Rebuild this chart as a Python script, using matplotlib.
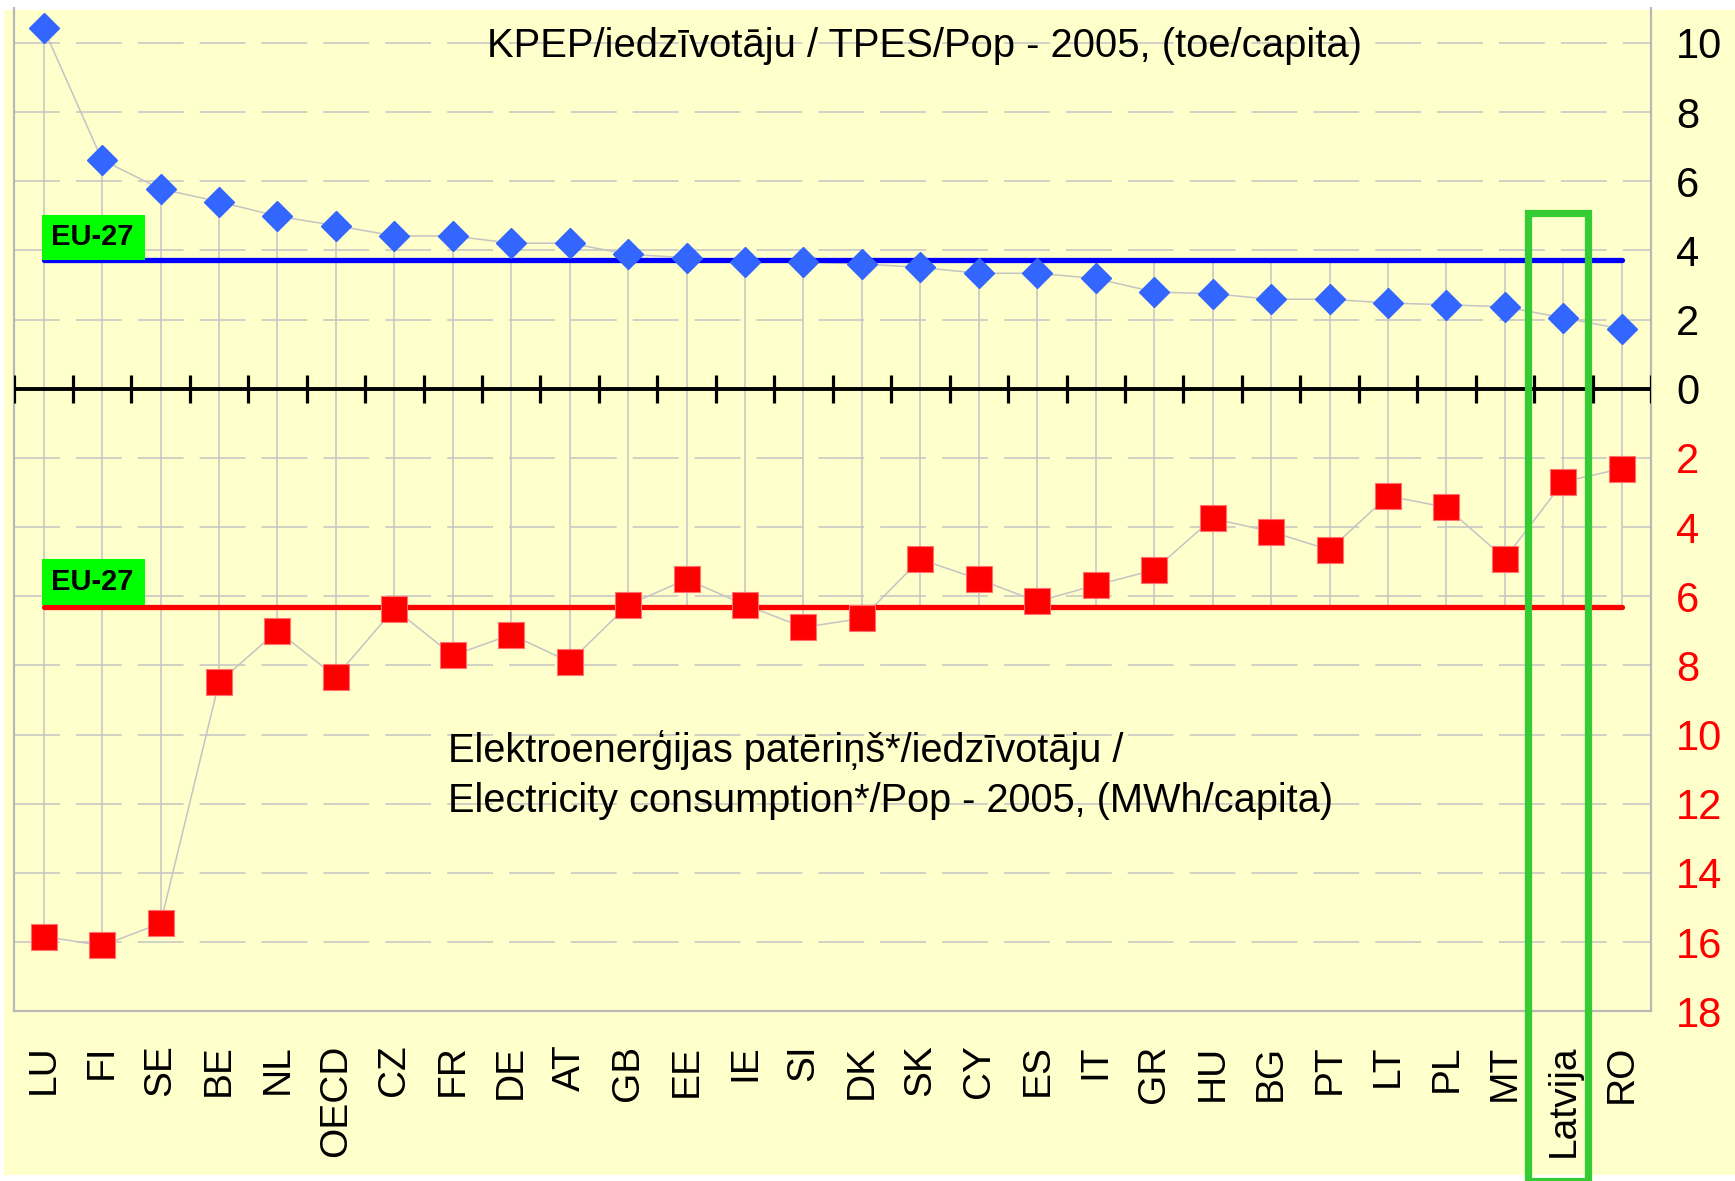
import numpy as np
import matplotlib.pyplot as plt
from matplotlib.patches import Rectangle

plt.rcParams['font.family'] = ['Liberation Sans', 'DejaVu Sans']

countries = ['LU', 'FI', 'SE', 'BE', 'NL', 'OECD', 'CZ', 'FR', 'DE', 'AT', 'GB', 'EE', 'IE',
             'SI', 'DK', 'SK', 'CY', 'ES', 'IT', 'GR', 'HU', 'BG', 'PT', 'LT', 'PL', 'MT',
             'Latvija', 'RO']
# TPES/Pop, toe/capita (upper half)
tpes = [10.42, 6.62, 5.78, 5.41, 4.99, 4.72, 4.42, 4.42, 4.21, 4.21, 3.89, 3.79, 3.67,
        3.67, 3.61, 3.51, 3.34, 3.34, 3.19, 2.80, 2.75, 2.59, 2.59, 2.48, 2.43, 2.37, 2.05, 1.73]
# electricity consumption/Pop, MWh/capita (lower half, drawn downwards)
elec = [15.84, 16.10, 15.46, 8.49, 7.00, 8.33, 6.36, 7.71, 7.11, 7.90, 6.25, 5.51, 6.25,
        6.90, 6.64, 4.93, 5.51, 6.15, 5.68, 5.24, 3.75, 4.13, 4.66, 3.10, 3.43, 4.91, 2.69, 2.31]
eu27_tpes = 3.73
eu27_elec = 6.32
highlight = 'Latvija'

title_top = 'KPEP/iedzīvotāju / TPES/Pop - 2005, (toe/capita)'
title_bot = ['Elektroenerģijas patēriņš*/iedzīvotāju /',
             'Electricity consumption*/Pop - 2005, (MWh/capita)']

W, H = 1735, 1181
fig = plt.figure(figsize=(W / 100, H / 100), dpi=100, facecolor='white')
bg = Rectangle((4 / W, 6 / H), 1, 1165 / H, transform=fig.transFigure,
               facecolor='#FFFFCC', edgecolor='none')
bg.set_zorder(-10)
fig.patches.append(bg)
ax = fig.add_axes([14.4 / W, (H - 1011.2) / H, (1651 - 14.4) / W, 1002.8 / H])
ax.set_facecolor('none')

n = len(countries)
x = np.arange(n)
t = np.array(tpes)
e = -np.array(elec)
ax.set_xlim(-0.5, n - 0.5)
ax.set_ylim(-18, 11)

# dashed grid
for v in range(-16, 11, 2):
    if v != 0:
        ax.axhline(v, color='#C4C4C4', lw=1.1, ls=(0, (30, 10.5)), zorder=1)

# high-low lines
top = np.maximum(t, eu27_tpes)
bot = np.minimum(e, -eu27_elec)
ax.vlines(x, bot, top, color='#C4C4C4', lw=1.1, zorder=2)

# thin series lines
ax.plot(x, t, color='#C4C4C4', lw=1.1, zorder=3)
ax.plot(x, e, color='#C4C4C4', lw=1.1, zorder=3)

# EU-27 levels
ax.plot([x[0], x[-1]], [eu27_tpes, eu27_tpes], color='#0000FF', lw=3.8,
        solid_capstyle='round', zorder=4)
ax.plot([x[0], x[-1]], [-eu27_elec, -eu27_elec], color='#FF0000', lw=3.8,
        solid_capstyle='round', zorder=4)
for yb, h in [(eu27_tpes, 1.3), (-eu27_elec + 0.07, 1.32)]:
    ax.add_patch(Rectangle((-0.03, yb), 1.77, h, facecolor='#00FF00', edgecolor='none', zorder=4.5))
    ax.text(0.13, yb + h / 2, 'EU-27', fontsize=21, fontweight='bold', va='center',
            ha='left', zorder=6)

# zero axis with category ticks
ax.plot([-0.5, n - 0.5], [0, 0], color='black', lw=2.8, zorder=4)
ax.vlines(np.arange(n + 1) - 0.5, -0.4, 0.4, color='black', lw=2.3, zorder=4)

# markers
ax.plot(x, t, 'D', ms=15.3, color='#3366FF', mec='#3366FF', ls='none', zorder=5)
ax.plot(x, e, 's', ms=19, color='#FF0000', mec='#FF7070', mew=0.8, ls='none', zorder=5)

# Latvija highlight
i = countries.index(highlight)
ax.add_patch(Rectangle((i - 0.6, -22.9), 1.03, 27.98, fill=False, edgecolor='#33CC33',
                       lw=5.2, clip_on=False, zorder=7))

ax.text(15.07, 9.92, title_top, fontsize=28.8, ha='center', va='center', zorder=6)
ax.text(6.91, -10.46, title_bot[0], fontsize=28.6, ha='left', va='center', zorder=6)
ax.text(6.91, -11.91, title_bot[1], fontsize=28.6, ha='left', va='center', zorder=6)

# spines
ax.spines['top'].set_visible(False)
for s in ['left', 'right', 'bottom']:
    ax.spines[s].set_color('#B8B8B8')
    ax.spines[s].set_linewidth(1.6)

# axes ticks
ax.yaxis.tick_right()
yt = list(range(-18, 11, 2))
ax.set_yticks(yt, [str(abs(v)) for v in yt])
ax.tick_params(axis='y', length=0, pad=18, labelsize=30)
for v, lab in zip(yt, ax.get_yticklabels()):
    lab.set_color('#FF0000' if v < 0 else 'black')
ax.set_xticks(x, countries, rotation=90)
ax.tick_params(axis='x', length=0, pad=24, labelsize=28)

fig.savefig('out.png', dpi=100, facecolor=fig.get_facecolor())
